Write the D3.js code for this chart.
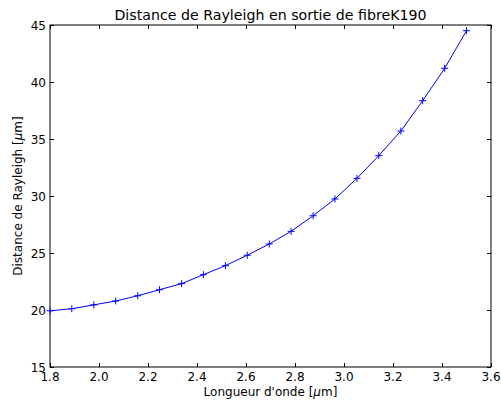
<!DOCTYPE html>
<html><head><meta charset="utf-8">
<script src="https://cdn.jsdelivr.net/npm/d3@7"></script>
<style>body{margin:0;background:#fff}svg{display:block}text{font-family:"DejaVu Sans",sans-serif}</style>
</head><body>
<script>
const wavelengths = [1.8, 1.889, 1.979, 2.068, 2.158, 2.247, 2.337, 2.426, 2.516, 2.605, 2.695, 2.784, 2.874, 2.963, 3.053, 3.142, 3.232, 3.321, 3.411, 3.5];
const rayleigh = [19.93, 20.11, 20.45, 20.79, 21.25, 21.78, 22.31, 23.1, 23.89, 24.8, 25.79, 26.9, 28.27, 29.74, 31.55, 33.54, 35.7, 38.36, 41.2, 44.5];
const xTicks = [1.8, 2.0, 2.2, 2.4, 2.6, 2.8, 3.0, 3.2, 3.4, 3.6];
const yTicks = [15, 20, 25, 30, 35, 40, 45];
const title = "Distance de Rayleigh en sortie de fibreK190";

const W = 501, H = 402;
const L = 50, R = 491, T = 25, B = 367;
const svg = d3.select("body").append("svg").attr("width", W).attr("height", H);
const x = d3.scaleLinear().domain([1.8, 3.6]).range([L, R]);
const y = d3.scaleLinear().domain([15, 45]).range([B, T]);

svg.append("rect").attr("x", L).attr("y", T).attr("width", R - L).attr("height", B - T)
  .attr("fill", "none").attr("stroke", "#000").attr("stroke-width", 1);

const tl = 4;
const fmt = d3.format(".1f");
const gx = svg.append("g");
xTicks.forEach(v => {
  const px = Math.round(x(v)) + 0.5;
  gx.append("line").attr("x1", px).attr("x2", px).attr("y1", B).attr("y2", B - tl).attr("stroke", "#000");
  gx.append("line").attr("x1", px).attr("x2", px).attr("y1", T).attr("y2", T + tl).attr("stroke", "#000");
  gx.append("text").attr("x", x(v)).attr("y", B + 14).attr("text-anchor", "middle")
    .attr("font-size", 12).text(fmt(v));
});
const gy = svg.append("g");
yTicks.forEach(v => {
  const py = Math.round(y(v)) + 0.5;
  gy.append("line").attr("x1", L).attr("x2", L + tl).attr("y1", py).attr("y2", py).attr("stroke", "#000");
  gy.append("line").attr("x1", R).attr("x2", R - tl).attr("y1", py).attr("y2", py).attr("stroke", "#000");
  gy.append("text").attr("x", L - 4).attr("y", y(v) + 4.5).attr("text-anchor", "end")
    .attr("font-size", 12).text(v);
});

const line = d3.line().x((d, i) => x(wavelengths[i])).y(d => y(d));
svg.append("path").datum(rayleigh).attr("d", line).attr("fill", "none")
  .attr("stroke", "#0000ff").attr("stroke-width", 1);
const m = 3.5;
svg.append("g").selectAll("path").data(rayleigh).join("path")
  .attr("d", (d, i) => {
    const px = x(wavelengths[i]), py = y(d);
    return `M${px - m},${py}H${px + m}M${px},${py - m}V${py + m}`;
  })
  .attr("stroke", "#0000ff").attr("stroke-width", 1).attr("fill", "none");

svg.append("text").attr("x", (L + R) / 2).attr("y", 20).attr("text-anchor", "middle")
  .attr("font-size", 14.2).text(title);

const xl = svg.append("text").attr("x", (L + R) / 2).attr("y", 396).attr("text-anchor", "middle").attr("font-size", 12);
xl.append("tspan").text("Longueur d'onde [");
xl.append("tspan").attr("font-style", "italic").text("μ");
xl.append("tspan").text("m]");

const yl = svg.append("text").attr("transform", `translate(22,${(T + B) / 2}) rotate(-90)`)
  .attr("text-anchor", "middle").attr("font-size", 12);
yl.append("tspan").text("Distance de Rayleigh [");
yl.append("tspan").attr("font-style", "italic").text("μ");
yl.append("tspan").text("m]");
</script>
</body></html>
